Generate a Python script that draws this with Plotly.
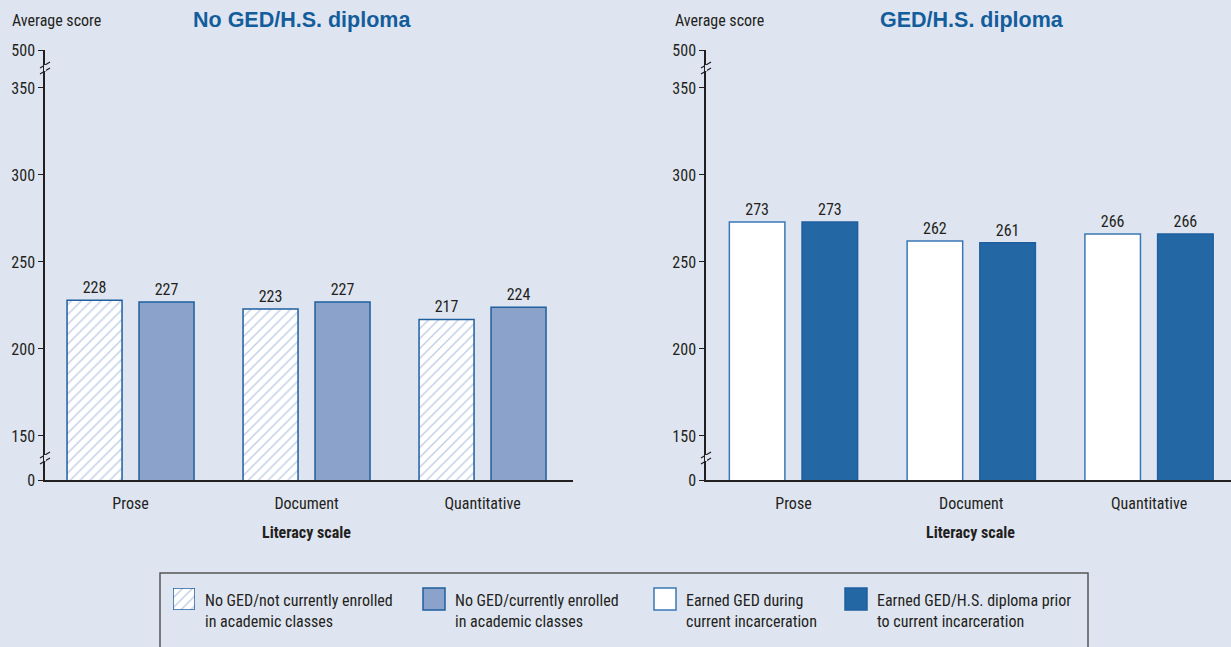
import plotly.graph_objects as go

W, H = 1231, 647

categories = ["Prose", "Document", "Quantitative"]
no_ged_not_enrolled = [228, 223, 217]
no_ged_enrolled = [227, 227, 224]
ged_during = [273, 262, 266]
ged_prior = [273, 261, 266]

tick_vals = [150, 200, 250, 300, 350]
tick_text_all = ["0", "150", "200", "250", "300", "350", "500"]

# broken axis: linear 150..350 section, compressed ends
Y_LO = 124.7
Y_HI = 371.8

BG = "#dfe5f0"
OUT = "#1f5f9f"
NARROW = "Liberation Sans Narrow, Arial Narrow, Roboto Condensed, Roboto, sans-serif"
TXT = "#231f20"

def px(x):
    return x / W

def py(y):
    return 1 - y / H

fig = go.Figure()

hatch = dict(shape="/", fgcolor="#7f9bcf", bgcolor="white", size=7, solidity=0.2)

fig.add_trace(go.Bar(
    x=categories, y=no_ged_not_enrolled, name="No GED/not currently enrolled in academic classes",
    xaxis="x", yaxis="y",
    marker=dict(color="white", line=dict(color=OUT, width=1.5), pattern=hatch),
    text=no_ged_not_enrolled, textposition="outside", cliponaxis=False,
    textfont=dict(family=NARROW, size=16, color=TXT),
))
fig.add_trace(go.Bar(
    x=categories, y=no_ged_enrolled, name="No GED/currently enrolled in academic classes",
    xaxis="x", yaxis="y",
    marker=dict(color="#8ba3cb", line=dict(color=OUT, width=1.5)),
    text=no_ged_enrolled, textposition="outside", cliponaxis=False,
    textfont=dict(family=NARROW, size=16, color=TXT),
))
fig.add_trace(go.Bar(
    x=categories, y=ged_during, name="Earned GED during current incarceration",
    xaxis="x2", yaxis="y2",
    marker=dict(color="white", line=dict(color="#3a78b5", width=1.5)),
    text=ged_during, textposition="outside", cliponaxis=False,
    textfont=dict(family=NARROW, size=16, color=TXT),
))
fig.add_trace(go.Bar(
    x=categories, y=ged_prior, name="Earned GED/H.S. diploma prior to current incarceration",
    xaxis="x2", yaxis="y2",
    marker=dict(color="#2368a5", line=dict(color="#1f5f9f", width=1.5)),
    text=ged_prior, textposition="outside", cliponaxis=False,
    textfont=dict(family=NARROW, size=16, color=TXT),
))

# hatched legend swatch (tiny bar on its own hidden axes)
fig.add_trace(go.Bar(
    x=[0], y=[1], width=[1], xaxis="x3", yaxis="y3", showlegend=False, hoverinfo="skip",
    marker=dict(color="white", line=dict(color=OUT, width=1.5), pattern=hatch),
))

yaxis_common = dict(
    range=[Y_LO, Y_HI],
    tickvals=[Y_LO] + tick_vals + [Y_HI],
    ticktext=tick_text_all,
    ticks="outside", ticklen=5, tickwidth=1.2, tickcolor=TXT,
    showline=True, linecolor=TXT, linewidth=1.5,
    showgrid=False, zeroline=False, automargin=False,
    tickfont=dict(family=NARROW, size=16, color=TXT),
    fixedrange=True,
)
xaxis_common = dict(
    showline=True, linecolor=TXT, linewidth=1.5,
    ticks="", showgrid=False, automargin=False,
    tickfont=dict(family=NARROW, size=16, color=TXT),
    ticklabelstandoff=8, fixedrange=True,
)

fig.update_layout(
    width=W, height=H,
    margin=dict(l=0, r=0, t=0, b=0, pad=0),
    paper_bgcolor=BG, plot_bgcolor=BG,
    showlegend=False,
    barmode="group", bargap=0.182, bargroupgap=0.236,
    xaxis=dict(domain=[px(45), px(573)], anchor="y", range=[-0.486, 2.514], **xaxis_common),
    yaxis=dict(domain=[py(480), py(50)], anchor="x", **yaxis_common),
    xaxis2=dict(domain=[px(706), 1.0], anchor="y2", range=[-0.492, 2.461], **xaxis_common),
    yaxis2=dict(domain=[py(480), py(50)], anchor="x2", **yaxis_common),
    xaxis3=dict(domain=[px(173), px(195)], anchor="y3", range=[-0.5, 0.5], visible=False,
                fixedrange=True, automargin=False),
    yaxis3=dict(domain=[py(610), py(588)], anchor="x3", range=[0, 1], visible=False,
                fixedrange=True, automargin=False),
)

shapes = []
# axis break marks
for ax_x in (45, 706):
    for by in (68, 458):
        for off in (-3, 3):
            shapes.append(dict(type="line", xref="paper", yref="paper",
                               x0=px(ax_x - 5), y0=py(by + off + 3),
                               x1=px(ax_x + 5), y1=py(by + off - 3),
                               line=dict(color=TXT, width=1.2)))
        shapes.append(dict(type="line", xref="paper", yref="paper",
                           x0=px(ax_x), y0=py(by - 3), x1=px(ax_x), y1=py(by + 3),
                           line=dict(color=BG, width=2)))

# legend box
shapes.append(dict(type="rect", xref="paper", yref="paper",
                   x0=px(160), y0=py(660), x1=px(1088), y1=py(573),
                   line=dict(color="#555555", width=1.5), fillcolor="rgba(0,0,0,0)"))
# legend swatches
sw = [(423, "#8ba3cb", OUT), (654, "white", "#3a78b5"), (845, "#2368a5", "#1f5f9f")]
for x0, fc, lc in sw:
    shapes.append(dict(type="rect", xref="paper", yref="paper",
                       x0=px(x0), y0=py(610), x1=px(x0 + 22), y1=py(588),
                       line=dict(color=lc, width=1.5), fillcolor=fc))
fig.update_layout(shapes=shapes)

ann = []
for ax_x in (10, 673):
    ann.append(dict(text="Average score", x=px(ax_x), y=py(21), xref="paper", yref="paper",
                    xanchor="left", yanchor="middle", showarrow=False,
                    font=dict(family=NARROW, size=16, color=TXT)))
ann.append(dict(text="<b>No GED/H.S. diploma</b>", x=px(302), y=py(20), xref="paper", yref="paper",
                xanchor="center", yanchor="middle", showarrow=False,
                font=dict(family="Liberation Sans, Arial, sans-serif", size=21.5, color="#135d9c")))
ann.append(dict(text="<b>GED/H.S. diploma</b>", x=px(972), y=py(20), xref="paper", yref="paper",
                xanchor="center", yanchor="middle", showarrow=False,
                font=dict(family="Liberation Sans, Arial, sans-serif", size=21.5, color="#135d9c")))
for cx in (306, 970):
    ann.append(dict(text="<b>Literacy scale</b>", x=px(cx), y=py(532), xref="paper", yref="paper",
                    xanchor="center", yanchor="middle", showarrow=False,
                    font=dict(family=NARROW, size=16, color=TXT)))
legend_texts = [
    (203, "No GED/not currently enrolled<br>in academic classes"),
    (453, "No GED/currently enrolled<br>in academic classes"),
    (684, "Earned GED during<br>current incarceration"),
    (875, "Earned GED/H.S. diploma prior<br>to current incarceration"),
]
for x0, t in legend_texts:
    ann.append(dict(text=t, x=px(x0), y=py(589), xref="paper", yref="paper",
                    xanchor="left", yanchor="top", align="left", showarrow=False,
                    font=dict(family=NARROW, size=16, color=TXT)))
fig.update_layout(annotations=ann)

fig.write_html(
    "out.html",
    config={"displayModeBar": False},
    post_script="document.body.style.margin='0';document.body.style.overflow='hidden';",
)
